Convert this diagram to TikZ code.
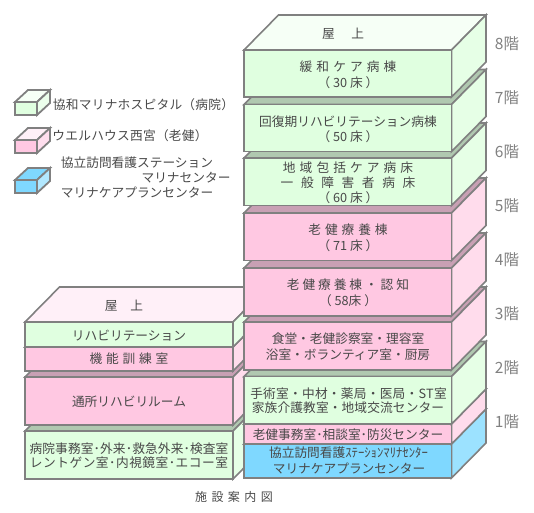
\documentclass[tikz,border=0pt]{standalone}
\usepackage{fontspec}
\setmainfont{Noto Sans CJK JP}
\definecolor{edge}{HTML}{808080}
\definecolor{ink}{HTML}{484848}
\definecolor{gf}{HTML}{E0FFE0}
\definecolor{gs}{HTML}{E6FFE6}
\definecolor{gd}{HTML}{B0C8B0}
\definecolor{pf}{HTML}{FFC8E2}
\definecolor{ps}{HTML}{FFDCEC}
\definecolor{pd}{HTML}{C8A0B4}
\definecolor{bf}{HTML}{7FD8FF}
\definecolor{bs}{HTML}{9CE2FF}
\definecolor{rg}{HTML}{F6FFF6}
\definecolor{rp}{HTML}{FFF0F8}
\newcommand{\ls}[1]{\addfontfeature{LetterSpace=#1}}
\newcommand{\fl}[7]{% x0,x1,top,bot,front,side,upper
  \draw[box,fill=#7] (#1,#3) -- (#1+34.5,#3-35) -- (#2+34.5,#3-35) -- (#2,#3) -- cycle;
  \draw[box,fill=#6] (#2,#3) -- (#2+34.5,#3-35) -- (#2+34.5,#4-35) -- (#2,#4) -- cycle;
  \draw[box,fill=#5] (#1,#3) rectangle (#2,#4);
}
\newcommand{\cube}[3]{% top y of front, front colour, top colour
  \draw[lbox,fill=#3] (15,#1) -- (28,#1-12) -- (50,#1-12) -- (37,#1) -- cycle;
  \draw[lbox,fill=#2!60!white] (37,#1) -- (50,#1-12) -- (50,#1+1) -- (37,#1+13) -- cycle;
  \draw[lbox,fill=#2] (15,#1) rectangle (37,#1+13);
}
\tikzset{
  box/.style={draw=edge,line width=1.6pt,line join=miter},
  lbox/.style={draw=edge,line width=1.8pt},
  txt/.style={inner sep=0pt,text=ink,font=\fontsize{12.7}{14}\selectfont},
  lvl/.style={inner sep=0pt,text=edge,font=\fontsize{15.5}{16}\selectfont},
  leg/.style={inner sep=0pt,text=ink,font=\fontsize{12.7}{14}\selectfont}
}
\begin{document}
\begin{tikzpicture}[x=1pt,y=-1pt]
\useasboundingbox (0,0) rectangle (534,512);
% left building
\fl{25}{233}{431}{479}{gf}{gs}{gd}
\fl{25}{233}{377}{425}{pf}{ps}{pd}
\fl{25}{233}{347}{371}{pf}{ps}{pd}
\fl{25}{233}{322}{347}{gf}{gs}{rp}
% main tower
\fl{244}{451.5}{444}{478}{bf}{bs}{pd}
\fl{244}{451.5}{424}{444}{pf}{ps}{pd}
\fl{244}{451.5}{376.5}{424}{gf}{gs}{gd}
\fl{244}{451.5}{322}{370}{pf}{ps}{pd}
\fl{244}{451.5}{268}{316}{pf}{ps}{pd}
\fl{244}{451.5}{213}{260.5}{pf}{ps}{pd}
\fl{244}{451.5}{158}{205.5}{gf}{gs}{gd}
\fl{244}{451.5}{104.5}{151.5}{gf}{gs}{gd}
\fl{244}{451.5}{50}{97}{gf}{gs}{rg}
% legend cubes
\cube{102}{gf}{rg}
\cube{140}{pf}{rp}
\cube{180}{bf}{bf}
% left building text
\node[txt] (lroof) at (124,306) {屋\hspace{1em}上};
\node[txt] (lreha) at (129,336) {\ls{0}リハビリテーション};
\node[txt] (lkino) at (129,359) {\ls{30}機能訓練室};
\node[txt] (ltsu) at (129,402) {\ls{0}通所リハビリルーム};
\node[txt] (lb1) at (129,449) {\ls{1}病院事務室･外来･救急外来･検査室};
\node[txt] (lb2) at (129,463) {\ls{4}レントゲン室･内視鏡室･エコー室};
% main tower text
\node[txt] (mroof) at (343,34) {屋\hspace{1.3em}上};
\node[txt] (m8a) at (348,67) {\ls{32}緩和ケア病棟};
\node[txt] (m8b) at (348,83) {（ 30 床 ）};
\node[txt] (m7a) at (348,122) {回復期リハビリテーション病棟};
\node[txt] (m7b) at (348,137) {（ 50 床 ）};
\node[txt] (m6a) at (348,168) {\ls{32}地域包括ケア病床};
\node[txt] (m6b) at (348,183) {\ls{60}一般障害者病床};
\node[txt] (m6c) at (348,198) {（ 60 床 ）};
\node[txt] (m5a) at (348,230) {\ls{31}老健療養棟};
\node[txt] (m5b) at (348,246) {（ 71 床 ）};
\node[txt] (m4a) at (348,285) {\ls{23}老健療養棟・認知};
\node[txt] (m4b) at (348,301) {（ 58床 ）};
\node[txt] (m3a) at (348,339) {食堂・老健診察室・理容室};
\node[txt] (m3b) at (348,355) {浴室・ボランティア室・厨房};
\node[txt] (m2a) at (348.5,394) {\ls{2}手術室・中材・薬局・医局・ST室};
\node[txt] (m2b) at (348,408) {\ls{1}家族介護教室・地域交流センター};
\node[txt] (m1a) at (348,435) {\ls{0}老健事務室･相談室･防災センター};
\node[txt] (m1b) at (348.5,453) {協立訪問看護ｽﾃｰｼｮﾝﾏﾘﾅｾﾝﾀｰ};
\node[txt] (m1c) at (349,468) {マリナケアプランセンター};
% floor labels
\node[lvl] (f8) at (507,44) {8階};
\node[lvl] (f7) at (507,98) {7階};
\node[lvl] (f6) at (507,152) {6階};
\node[lvl] (f5) at (507,206) {5階};
\node[lvl] (f4) at (507,260) {4階};
\node[lvl] (f3) at (507,314) {3階};
\node[lvl] (f2) at (507,368) {2階};
\node[lvl] (f1) at (507,422) {1階};
% caption
\node[txt,font=\fontsize{12}{13}\selectfont] (cap) at (234,497) {\ls{37}施設案内図};
% legend text
\node[leg] (t1) at (143.5,105) {\ls{2}協和マリナホスピタル（病院）};
\node[leg] (t2) at (130,136) {\ls{2}ウエルハウス西宮（老健）};
\node[leg] (t3) at (137,163) {協立訪問看護ステーション};
\node[leg] (t4) at (186,178) {マリナセンター};
\node[leg] (t5) at (137,193) {マリナケアプランセンター};
\end{tikzpicture}
\end{document}
